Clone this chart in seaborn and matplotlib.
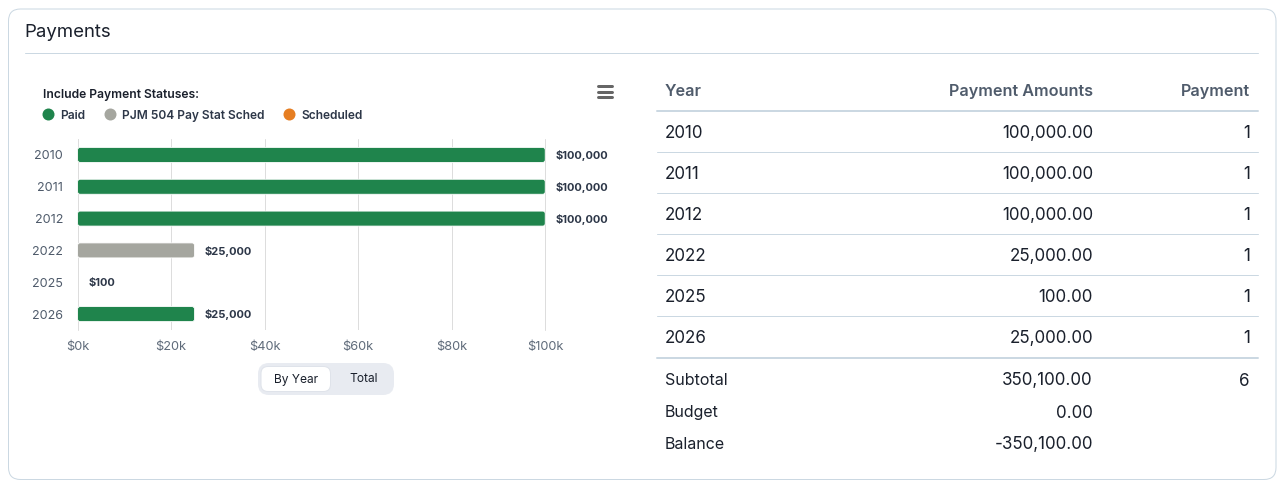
import matplotlib
matplotlib.use("Agg")
import matplotlib.pyplot as plt
from matplotlib.patches import FancyBboxPatch
import pandas as pd
import seaborn as sns

years = ["2010", "2011", "2012", "2022", "2025", "2026"]
amounts = [100000, 100000, 100000, 25000, 100, 25000]
statuses = ["Paid", "Paid", "Paid", "PJM 504 Pay Stat Sched", "Scheduled", "Paid"]
counts = ["1", "1", "1", "1", "1", "1"]

status_names = ["Paid", "PJM 504 Pay Stat Sched", "Scheduled"]
status_colors = ["#1f844c", "#a5a69f", "#e67e22"]
x_ticks = [0, 20000, 40000, 60000, 80000, 100000]
x_tick_labels = ["$0k", "$20k", "$40k", "$60k", "$80k", "$100k"]

table_head = ["Year", "Payment Amounts", "Payment"]
amount_labels = ["100,000.00", "100,000.00", "100,000.00", "25,000.00", "100.00", "25,000.00"]
bar_labels = ["$100,000", "$100,000", "$100,000", "$25,000", "$100", "$25,000"]
foot_names = ["Subtotal", "Budget", "Balance"]
foot_amounts = ["350,100.00", "0.00", "-350,100.00"]
foot_counts = ["6", "", ""]

W, H = 1288, 491
LINE = "#cbd8e2"
DARK = "#1a202c"
SLATE = "#2d3748"
MUTED = "#4f5b6b"


def pt(px):
    # sizes below are css pixels, figure is 100 dpi
    return px * 0.72


sns.set_theme(style="white")
plt.rcParams["font.family"] = ["Inter", "DejaVu Sans"]

fig = plt.figure(figsize=(W / 100, H / 100), dpi=100, facecolor="white")

# page layer in pixel coordinates
bg = fig.add_axes([0, 0, 1, 1], zorder=0)
bg.set_xlim(0, W)
bg.set_ylim(H, 0)
bg.axis("off")

bg.add_patch(FancyBboxPatch((8.5, 9), 1267.5, 470.5, boxstyle="round,pad=0,rounding_size=12",
                            fc="white", ec=LINE, lw=pt(1)))
bg.plot([25, 1258], [53, 53], color=LINE, lw=pt(1))
bg.text(24.5, 32, "Payments", fontsize=pt(18.6), color=DARK, va="center", ha="left")

# legend
bg.text(43, 95, "Include Payment Statuses:", fontsize=pt(12.1), color=DARK, weight="semibold", va="center")
for name, color, mx in zip(status_names, status_colors, [48.5, 110.5, 289.5]):
    bg.scatter([mx], [114], s=(pt(12)) ** 2, color=color, linewidths=0)
    bg.text(mx + 11.5, 115.5, name, fontsize=pt(12), color=SLATE, weight="semibold", va="center")

# hamburger menu
for my in [86, 91.5, 96.5]:
    bg.plot([598, 612], [my, my], color="#666666", lw=pt(3), solid_capstyle="round")

# toggle
bg.add_patch(FancyBboxPatch((258, 363), 136, 32, boxstyle="round,pad=0,rounding_size=11", fc="#e8ebf1", ec="none"))
bg.add_patch(FancyBboxPatch((261, 366.5), 69.5, 25, boxstyle="round,pad=0,rounding_size=7", fc="white", ec="#dfe3ea", lw=pt(1)))
bg.text(296, 379.5, "By Year", fontsize=pt(12), color=DARK, ha="center", va="center")
bg.text(364, 379.5, "Total", fontsize=pt(12), color=DARK, ha="center", va="center")

# chart
ax = fig.add_axes([77.6 / W, 1 - 330 / H, (545.2 - 77.6) / W, (330 - 139) / H], zorder=1)
ax.patch.set_alpha(0)
df = pd.DataFrame({"year": years, "amount": amounts, "status": statuses})
sns.barplot(data=df, x="amount", y="year", hue="status", hue_order=status_names,
            palette=status_colors, saturation=1, dodge=False, width=0.47, legend=False, ax=ax)
ax.set_xlim(0, 100000)
ax.set_xlabel("")
ax.set_ylabel("")
ax.set_xticks(x_ticks, x_tick_labels)
sns.despine(ax=ax, left=True, bottom=True, right=True, top=True)
ax.grid(True, axis="x", color="#dddddd", lw=pt(1))
ax.grid(False, axis="y")
ax.set_axisbelow(True)
for v in [0, 100000]:
    ax.axvline(v, color="#dddddd", lw=pt(1), zorder=0, clip_on=False)
ax.tick_params(axis="x", length=0, labelsize=pt(12.8), labelcolor="#5f6b7a", pad=pt(11))
ax.tick_params(axis="y", length=0, labelsize=pt(12.6), labelcolor=MUTED, pad=pt(14.5))

# swap the square bars for rounded ones, same geometry
xpx = 467.6 / 100000
ypx = 191 / 6
radius = 2.5 / xpx
for bar in list(ax.patches):
    x, y, w, h = bar.get_x(), bar.get_y(), bar.get_width(), bar.get_height()
    if h == 0 or w * xpx < 1:
        # too thin to show up at this scale
        bar.set_visible(False)
        continue
    ax.add_patch(FancyBboxPatch((x, y), w, h, boxstyle="round,pad=0,rounding_size=%f" % radius,
                                mutation_aspect=(2.5 / ypx) / radius, fc=bar.get_facecolor(),
                                ec="white", lw=pt(0.8), clip_on=False, zorder=3))
    bar.set_visible(False)

for i, (val, label) in enumerate(zip(amounts, bar_labels)):
    ax.annotate(label, (val, i), xytext=(pt(10.5), pt(0.4)), textcoords="offset points", annotation_clip=False,
                fontsize=pt(11.1), weight="bold", color=SLATE, ha="left", va="center_baseline")

# table
bg.text(665, 89.5, table_head[0], fontsize=pt(16.2), weight="semibold", color=MUTED, va="center_baseline")
bg.text(1093, 89.5, table_head[1], fontsize=pt(16.2), weight="semibold", color=MUTED, ha="right", va="center_baseline")
bg.text(1250, 89.5, table_head[2], fontsize=pt(16.2), weight="semibold", color=MUTED, ha="right", va="center_baseline")
bg.plot([657, 1258], [111, 111], color=LINE, lw=pt(2))

row_y = 131.5
for year, amt, cnt in zip(years, amount_labels, counts):
    bg.text(665, row_y, year, fontsize=pt(17), color=DARK, va="center_baseline")
    bg.text(1093, row_y, amt, fontsize=pt(17), color=DARK, ha="right", va="center_baseline")
    bg.text(1250, row_y, cnt, fontsize=pt(17), color=DARK, ha="right", va="center_baseline")
    if year != years[-1]:
        bg.plot([657, 1258], [row_y + 20.5, row_y + 20.5], color=LINE, lw=pt(1))
    row_y += 41
bg.plot([657, 1258], [358, 358], color=LINE, lw=pt(2))

row_y = 379
for name, amt, cnt in zip(foot_names, foot_amounts, foot_counts):
    bg.text(665, row_y, name, fontsize=pt(16), color=DARK, va="center_baseline")
    bg.text(1093, row_y, amt, fontsize=pt(17), color=DARK, ha="right", va="center_baseline")
    bg.text(1250, row_y, cnt, fontsize=pt(17), color=DARK, ha="right", va="center_baseline")
    row_y += 32

fig.savefig("out.png", dpi=100, facecolor="white")
